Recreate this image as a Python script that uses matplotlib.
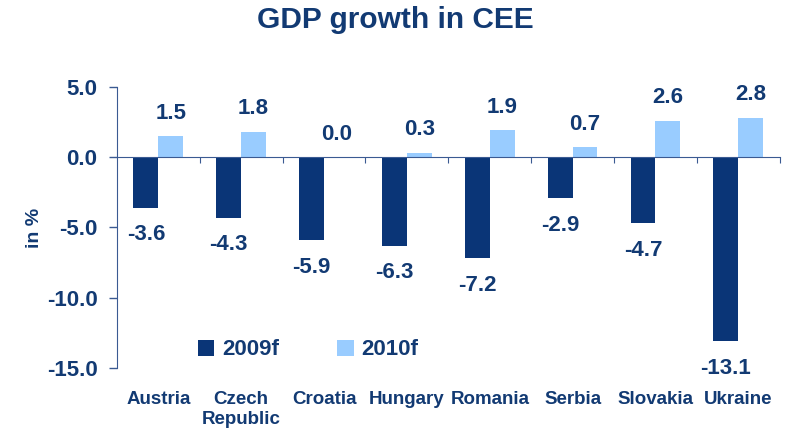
import numpy as np
import matplotlib.pyplot as plt
import matplotlib.transforms as mtransforms

plt.rcParams['font.family'] = ['Liberation Sans', 'DejaVu Sans']
plt.rcParams['font.weight'] = 'bold'

# data
countries = ['Austria', 'Czech\nRepublic', 'Croatia', 'Hungary', 'Romania',
             'Serbia', 'Slovakia', 'Ukraine']
gdp_2009 = [-3.6, -4.3, -5.9, -6.3, -7.2, -2.9, -4.7, -13.1]
gdp_2010 = [1.5, 1.8, 0.0, 0.3, 1.9, 0.7, 2.6, 2.8]

dark = '#0A3577'
light = '#99CCFF'
txt = '#123A73'
axcol = '#3A5A92'

fig = plt.figure(figsize=(7.9, 4.32), dpi=100)
ax = fig.add_axes([0.148, 0.148, 0.839, 0.651])

x = np.arange(len(countries))
w = 0.3
ax.bar(x - w / 2, gdp_2009, w, color=dark, label='2009f')
ax.bar(x + w / 2, gdp_2010, w, color=light, label='2010f')

# value labels
for xi, v in zip(x, gdp_2009):
    ax.annotate(f'{v:.1f}', (xi - w / 2, v), xytext=(0, -12), textcoords='offset points',
                ha='center', va='top', fontsize=16, color=txt, fontweight='bold')
for xi, v in zip(x, gdp_2010):
    ax.annotate(f'{v:.1f}', (xi + w / 2, v), xytext=(0, 9), textcoords='offset points',
                ha='center', va='bottom', fontsize=16, color=txt, fontweight='bold')

ax.set_xlim(-0.5, len(countries) - 0.5)
ax.set_ylim(-15, 5)
ax.set_yticks([5, 0, -5, -10, -15])
ax.set_yticklabels([f'{t:.1f}' for t in [5, 0, -5, -10, -15]])
ax.tick_params(axis='y', labelsize=16, labelcolor=txt, color=axcol, length=6, width=1, pad=8)

# x axis sits on the zero line, short ticks between categories
ax.spines['bottom'].set_position(('data', 0))
ax.spines['bottom'].set_color(axcol)
ax.spines['left'].set_color(axcol)
ax.spines['top'].set_visible(False)
ax.spines['right'].set_visible(False)
ax.set_xticks(x + 0.5, minor=False)
ax.set_xticklabels([])
ax.tick_params(axis='x', direction='out', length=4, color=axcol)

# category names below the plot
trans = mtransforms.blended_transform_factory(ax.transData, ax.transAxes)
for xi, name in zip(x, countries):
    ax.text(xi, -0.08, name, transform=trans, ha='center', va='top',
            fontsize=13.5, color=txt, fontweight='bold', linespacing=1.3)

ax.set_ylabel('in %', fontsize=14, color=txt, fontweight='bold', labelpad=3)
fig.suptitle('GDP growth in CEE', x=0.5, y=0.985, fontsize=21.5, color=txt, fontweight='bold')

leg = ax.legend(loc='center', bbox_to_anchor=(0.39, 0.19), bbox_transform=fig.transFigure,
                ncol=2, frameon=False, fontsize=16, handlelength=0.75, handleheight=0.75,
                columnspacing=2.6, handletextpad=0.35)
for t in leg.get_texts():
    t.set_color(txt)

fig.savefig('out.png', dpi=100)
